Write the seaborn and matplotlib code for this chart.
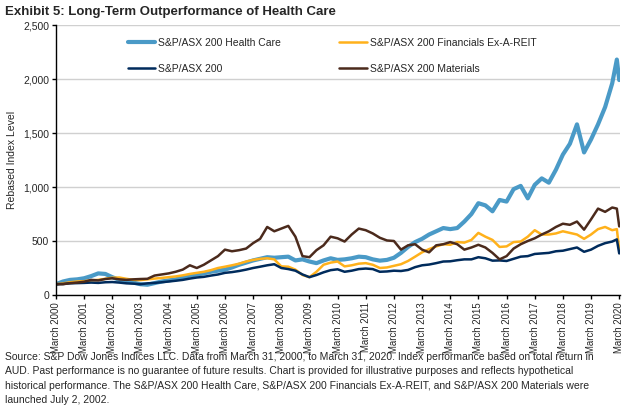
import pandas as pd
import numpy as np
import matplotlib
matplotlib.use("Agg")
import matplotlib.pyplot as plt
import matplotlib.ticker as mticker
import seaborn as sns

sns.set_style('white')
plt.rcParams['font.family'] = ['Liberation Sans', 'DejaVu Sans']

# quarter ends Mar 2000 - Dec 2019, then Feb 2020 and Mar 2020
dates = list(pd.date_range('2000-03-31', '2019-12-31', freq='QE')) + \
    [pd.Timestamp('2020-02-29'), pd.Timestamp('2020-03-31')]

health_care = [100, 125, 140, 145, 155, 175, 200, 195, 165, 140, 125, 115,
               100, 95, 110, 125, 135, 145, 160, 180, 190, 200, 215, 225,
               235, 255, 280, 300, 320, 335, 350, 345, 350, 355, 320, 330,
               310, 295, 320, 340, 325, 330, 340, 355, 350, 330, 318, 325,
               345, 390, 445, 490, 520, 560, 590, 620, 610, 620, 680, 750,
               850, 830, 775, 880, 865, 980, 1010, 895, 1020, 1080, 1040, 1160,
               1300, 1400, 1580, 1320, 1440, 1580, 1740, 1960, 2180, 1990]

financials = [100, 108, 118, 125, 128, 135, 140, 150, 160, 162, 150, 140,
              138, 145, 152, 158, 165, 172, 182, 195, 205, 215, 230, 250,
              262, 275, 290, 310, 325, 335, 340, 330, 265, 262, 235, 185,
              165, 215, 280, 300, 310, 265, 275, 290, 295, 280, 250, 255,
              270, 285, 315, 355, 395, 425, 450, 470, 465, 490, 485, 510,
              575, 540, 510, 445, 450, 490, 495, 540, 600, 560, 560, 570,
              590, 575, 560, 520, 560, 610, 630, 600, 610, 420]

asx200 = [100, 102, 108, 110, 112, 115, 112, 118, 120, 115, 108, 105,
          100, 108, 112, 118, 125, 132, 140, 152, 162, 168, 180, 190,
          205, 212, 222, 235, 250, 262, 275, 285, 250, 240, 225, 190,
          165, 185, 210, 230, 238, 215, 225, 240, 245, 240, 215, 218,
          225, 222, 232, 258, 275, 282, 295, 310, 312, 322, 330, 330,
          350, 340, 318, 320, 315, 335, 355, 360, 380, 385, 390, 405,
          410, 425, 440, 400, 420, 455, 480, 495, 515, 385]

materials = [100, 100, 110, 115, 123, 140, 135, 148, 155, 145, 140, 145,
             148, 150, 180, 190, 200, 215, 235, 275, 250, 280, 320, 360,
             420, 405, 415, 430, 480, 520, 630, 590, 615, 640, 540, 360,
             350, 415, 460, 540, 525, 495, 560, 615, 600, 570, 530, 505,
             500, 420, 460, 470, 420, 395, 460, 470, 490, 470, 420, 440,
             465, 440, 390, 330, 360, 430, 470, 500, 525, 560, 590, 630,
             660, 650, 680, 605, 700, 800, 770, 810, 800, 635]

names = ['S&P/ASX 200 Health Care', 'S&P/ASX 200 Financials Ex-A-REIT',
         'S&P/ASX 200', 'S&P/ASX 200 Materials']
colors = ['#4A9AC7', '#FFB11B', '#002B5C', '#4B2A1C']
widths = [3.0, 1.8, 1.8, 1.8]

df = pd.DataFrame({'date': dates, names[0]: health_care, names[1]: financials,
                   names[2]: asx200, names[3]: materials})
long_df = df.melt(id_vars='date', var_name='series', value_name='value')

fig = plt.figure(figsize=(6.32, 4.17), dpi=100)
ax = fig.add_axes([56 / 632, 1 - 295 / 417, 564 / 632, 270 / 417])

lines = {}
for name, c, w in zip(names, colors, widths):
    sns.lineplot(data=long_df[long_df['series'] == name], x='date', y='value',
                 color=c, linewidth=w, ax=ax, label=name, legend=False)
    lines[name] = ax.lines[-1]

ax.set_ylim(0, 2500)
ax.set_xlim(pd.Timestamp('2000-03-31'), pd.Timestamp('2020-04-10'))
ax.yaxis.set_major_locator(mticker.MultipleLocator(500))
ax.yaxis.set_major_formatter(mticker.StrMethodFormatter('{x:,.0f}'))
ax.grid(axis='y', color='#D0D0D0', linewidth=1)
ax.set_axisbelow(True)

years = list(range(2000, 2021))
ax.set_xticks([pd.Timestamp(f'{y}-03-31') for y in years])
ax.set_xticklabels([f'March {y}' for y in years], rotation=90)
ax.tick_params(axis='both', direction='out', length=3, width=1, color='black',
               pad=2, bottom=True, left=True)
ax.tick_params(axis='x', labelsize=6.9)
ax.tick_params(axis='y', labelsize=7.5)

for s in ['top', 'right']:
    ax.spines[s].set_visible(False)
for s in ['left', 'bottom']:
    ax.spines[s].set_color('black')
    ax.spines[s].set_linewidth(1)

ax.set_xlabel('')
ax.set_ylabel('Rebased Index Level', fontsize=7.5, labelpad=4)

order = [names[0], names[2], names[1], names[3]]
ax.legend([lines[n] for n in order], order, ncol=2, frameon=False,
          fontsize=7.5, loc='upper left', bbox_to_anchor=(128 / 632, 1 - 38 / 417),
          bbox_transform=fig.transFigure, borderaxespad=0, borderpad=0,
          handlelength=2.6, handletextpad=0.3, columnspacing=5.6,
          labelspacing=1.5)

fig.text(5 / 632, 1 - 12 / 417, 'Exhibit 5: Long-Term Outperformance of Health Care',
         fontsize=9.5, fontweight='bold', va='center', ha='left')

note = ('Source: S&P Dow Jones Indices LLC. Data from March 31, 2000, to March 31, 2020. Index performance based on total return in\n'
        'AUD. Past performance is no guarantee of future results. Chart is provided for illustrative purposes and reflects hypothetical\n'
        'historical performance. The S&P/ASX 200 Health Care, S&P/ASX 200 Financials Ex-A-REIT, and S&P/ASX 200 Materials were\n'
        'launched July 2, 2002.')
fig.text(5 / 632, 1 - 352 / 417, note, fontsize=7.5, va='top', ha='left',
         linespacing=1.55)

fig.savefig('out.png', dpi=100)
